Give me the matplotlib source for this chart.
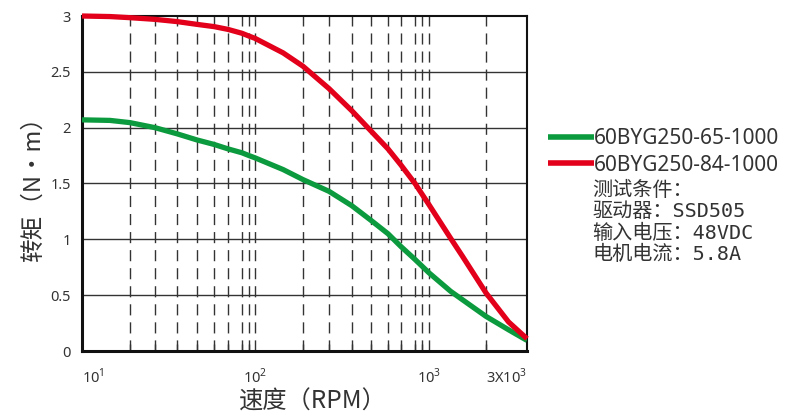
import matplotlib
matplotlib.use("Agg")
import numpy as np
import matplotlib.pyplot as plt
from matplotlib.ticker import FixedLocator, NullFormatter

plt.rcParams['font.family'] = ['Noto Sans CJK SC', 'DejaVu Sans']
plt.rcParams['mathtext.fontset'] = 'custom'
plt.rcParams['mathtext.rm'] = 'Noto Sans'

# ---- data ----
speed = [10, 15, 20, 30, 40, 50, 60, 70, 80, 90, 100, 150, 200, 300, 400, 500,
         600, 700, 800, 900, 1000, 1300, 1500, 2000, 2500, 3000]
torque_65 = [2.07, 2.065, 2.045, 2.00, 1.945, 1.89, 1.85, 1.81, 1.775, 1.75,
             1.73, 1.625, 1.535, 1.43, 1.30, 1.17, 1.05, 0.935, 0.82, 0.76,
             0.70, 0.535, 0.46, 0.31, 0.19, 0.095]
torque_84 = [3.00, 2.995, 2.985, 2.97, 2.95, 2.925, 2.905, 2.88, 2.845, 2.82,
             2.80, 2.67, 2.55, 2.35, 2.15, 1.97, 1.81, 1.665, 1.50, 1.405, 1.31,
             1.01, 0.85, 0.52, 0.26, 0.11]
series_names = ["60BYG250-65-1000", "60BYG250-84-1000"]
conditions = ["测试条件：", "驱动器：SSD505", "输入电压：48VDC", "电机电流：5.8A"]
grid_speeds = [20, 30, 40, 50, 60, 70, 80, 90, 100,
               200, 300, 400, 500, 600, 700, 800, 900, 1000, 2000]
xtick_vals = [10, 100, 1000, 3000]
xtick_labels = ["$10^1$", "$10^2$", "$10^3$", "3X$10^3$"]
ytick_vals = [0, 0.5, 1, 1.5, 2, 2.5, 3]
ytick_labels = ["0", "0.5", "1", "1.5", "2", "2.5", "3"]

# The printed chart uses a hand-ruled log axis; its spacing is reproduced by a
# piecewise log scale (speed knots -> relative axis position).
scale_speed = [10, 20, 30, 40, 50, 60, 70, 80, 90, 100, 200, 300, 400, 500,
               600, 700, 800, 900, 1000, 2000, 3000]
scale_pos = [0, 48, 73, 95, 115, 132, 146, 160, 167, 173, 221, 247, 270, 289,
             306, 319, 333, 340, 347, 404, 445]
_lk = np.log10(scale_speed)
_pk = np.array(scale_pos, dtype=float)


def fwd(x):
    x = np.clip(np.asarray(x, dtype=float), 1e-6, None)
    return np.interp(np.log10(x), _lk, _pk)


def inv(y):
    return 10 ** np.interp(np.asarray(y, dtype=float), _pk, _lk)


green = "#0c9a3e"
red = "#e2001a"
txt = "#333333"

fig = plt.figure(figsize=(7.86, 4.15), dpi=100)
ax = fig.add_axes([82/786, 1 - 351/415, 445/786, 335/415])
ax.set_xscale('function', functions=(fwd, inv))
ax.set_xlim(10, 3000)
ax.set_ylim(0, 3)

for v in ytick_vals[1:-1]:
    ax.axhline(v, color="#333333", lw=1.0, zorder=1)
for s in grid_speeds:
    ax.axvline(s, color="#333333", lw=1.0, ls=(0, (8, 5)), zorder=1)

l1, = ax.plot(speed, torque_65, color=green, lw=3.8, solid_capstyle='butt',
              solid_joinstyle='round', zorder=3)
l2, = ax.plot(speed, torque_84, color=red, lw=3.8, solid_capstyle='butt',
              solid_joinstyle='round', zorder=3, clip_on=False)

ax.xaxis.set_major_locator(FixedLocator(xtick_vals))
ax.set_xticklabels(xtick_labels)
ax.xaxis.set_minor_locator(FixedLocator(grid_speeds))
ax.xaxis.set_minor_formatter(NullFormatter())
ax.tick_params(axis='x', which='major', length=0, pad=12, labelsize=10.5, labelcolor=txt)
ax.tick_params(axis='x', which='minor', direction='in', length=5, width=1, color="#333333")
ax.set_yticks(ytick_vals)
ax.set_yticklabels(ytick_labels)
ax.tick_params(axis='y', length=0, pad=8, labelsize=10.5, labelcolor=txt)
for lab in ax.get_yticklabels() + ax.get_xticklabels():
    lab.set_fontfamily(['Noto Sans', 'DejaVu Sans'])
xl = ax.get_xticklabels()
xl[0].set_horizontalalignment('left')
xl[-1].set_horizontalalignment('right')

for side in ['left', 'bottom']:
    ax.spines[side].set_linewidth(2.2)
for side in ['top', 'right']:
    ax.spines[side].set_linewidth(1.5)
for sp in ax.spines.values():
    sp.set_color('#111111')

ax.set_xlabel("速度（RPM）", fontsize=17.5, color=txt, labelpad=1)
ax.xaxis.label.set_x(0.519)
ax.set_ylabel("转矩（N・m）", fontsize=17, color=txt, labelpad=4)

leg = fig.legend([l1, l2], series_names, loc='upper left',
                 bbox_to_anchor=(548/786, 1 - 128/415), frameon=False,
                 handlelength=2.2, handletextpad=0.02, labelspacing=0.27,
                 borderaxespad=0, borderpad=0,
                 prop={'family': ['Noto Sans', 'DejaVu Sans'], 'size': 15})
for t in leg.get_texts():
    t.set_color(txt)
for h in leg.legend_handles:
    h.set_linewidth(4)

y0 = 1 - 190/415
for i, line in enumerate(conditions):
    fig.text(592/786, y0 - i * 21.5/415, line, fontsize=14.5, color=txt,
             va='center', ha='left', fontweight='medium',
             family=['DejaVu Sans Mono', 'Noto Sans CJK SC'])

fig.savefig("out.png", dpi=100)
